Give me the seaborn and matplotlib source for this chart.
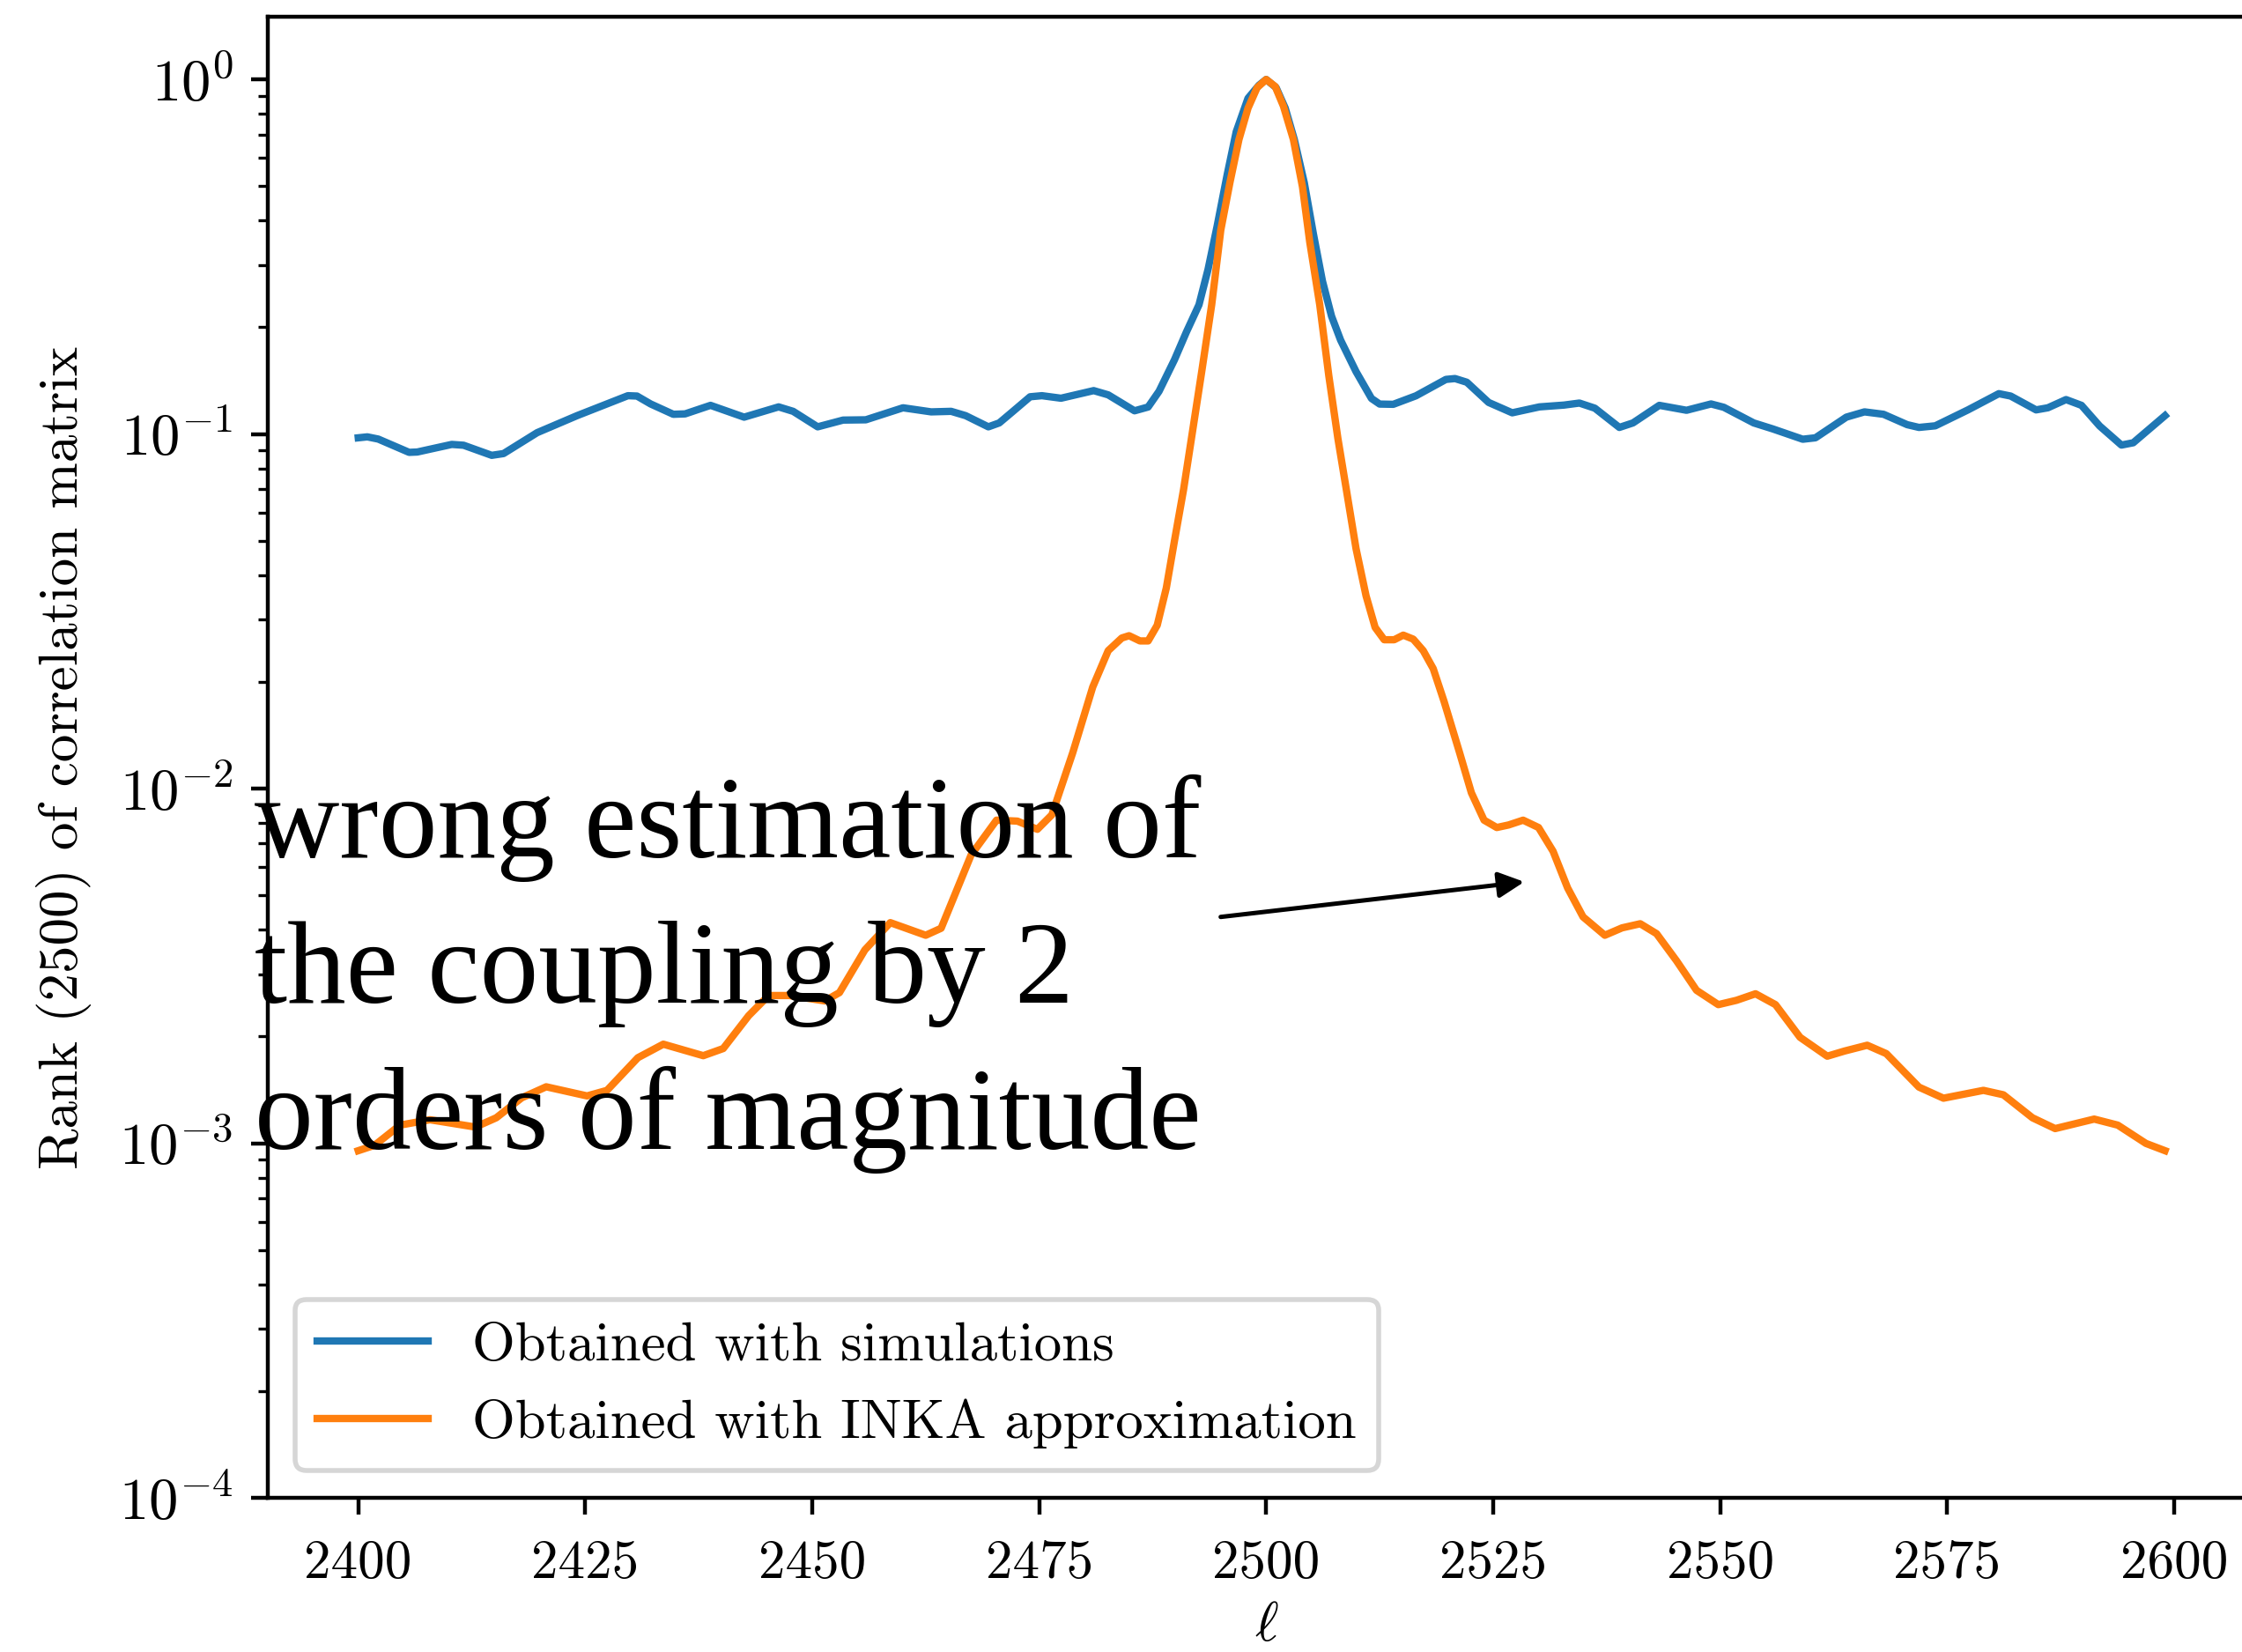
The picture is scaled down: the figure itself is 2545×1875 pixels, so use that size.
import matplotlib
matplotlib.use("Agg")
import matplotlib.pyplot as plt
import seaborn as sns
import pandas as pd

# Multipole values and coupling rank for the two estimates
ell_sim = [2400.0, 2401.0, 2402.2, 2405.6, 2406.5, 2410.3, 2411.6, 2414.7, 2416.0, 2419.7,
           2424.1, 2429.7, 2430.7, 2432.2, 2434.7, 2436.0, 2438.8, 2442.5, 2446.3, 2447.9,
           2450.6, 2453.4, 2455.9, 2460.0, 2463.1, 2465.3, 2466.9, 2469.4, 2470.6, 2472.2,
           2474.0, 2475.3, 2477.4, 2481.0, 2482.6, 2485.5, 2487.0, 2488.2, 2489.9, 2491.2,
           2492.6, 2493.6, 2494.6, 2495.7, 2496.7, 2498.0, 2499.2, 2500.0, 2501.1, 2502.1,
           2503.1, 2504.2, 2505.2, 2506.2, 2507.2, 2508.2, 2509.9, 2511.6, 2512.5, 2514.0,
           2516.5, 2519.8, 2520.8, 2522.1, 2524.5, 2527.1, 2530.1, 2532.8, 2534.5, 2536.2,
           2538.9, 2540.4, 2543.3, 2546.3, 2549.0, 2550.4, 2553.7, 2555.8, 2559.1, 2560.5,
           2563.9, 2565.9, 2568.0, 2570.6, 2571.9, 2573.7, 2577.3, 2580.7, 2582.0, 2584.8,
           2586.1, 2588.1, 2589.8, 2591.8, 2594.2, 2595.5, 2599.0]
rank_sim = [0.0976, 0.0982, 0.0968, 0.0888, 0.0890, 0.0935, 0.0930, 0.0871, 0.0881, 0.1009,
            0.1127, 0.1283, 0.1280, 0.1216, 0.1137, 0.1140, 0.1205, 0.1116, 0.1193, 0.1159,
            0.1048, 0.1095, 0.1097, 0.1186, 0.1155, 0.1159, 0.1127, 0.1048, 0.1075, 0.1164,
            0.1274, 0.1283, 0.1262, 0.1326, 0.1290, 0.1163, 0.1192, 0.1320, 0.1620, 0.1936,
            0.2315, 0.2915, 0.386, 0.538, 0.712, 0.885, 0.963, 1.0, 0.948, 0.830,
            0.677, 0.511, 0.367, 0.270, 0.215, 0.184, 0.150, 0.126, 0.1215, 0.1213,
            0.1282, 0.1426, 0.1434, 0.1400, 0.1228, 0.1148, 0.1193, 0.1207, 0.1223, 0.1183,
            0.1044, 0.1075, 0.1205, 0.1167, 0.1216, 0.1190, 0.1075, 0.1034, 0.0967, 0.0976,
            0.1116, 0.1155, 0.1137, 0.1063, 0.1044, 0.1055, 0.1170, 0.1300, 0.1280, 0.1170,
            0.1186, 0.1251, 0.1205, 0.1054, 0.0931, 0.0945, 0.1127]

ell_inka = [2400.0, 2401.8, 2404.6, 2407.9, 2412.9, 2415.2, 2418.0, 2420.7, 2425.2, 2427.4,
            2430.8, 2433.6, 2438.0, 2440.2, 2443.0, 2445.2, 2447.5, 2451.4, 2453.0, 2455.8,
            2458.6, 2462.5, 2464.2, 2467.5, 2470.3, 2472.6, 2474.8, 2476.4, 2478.7, 2480.9,
            2482.6, 2484.1, 2484.9, 2486.1, 2487.0, 2488.0, 2489.0, 2489.9, 2490.9, 2491.9,
            2492.9, 2494.0, 2495.0, 2496.0, 2497.0, 2498.0, 2499.0, 2500.0, 2501.0, 2501.9,
            2503.0, 2504.0, 2504.8, 2505.9, 2506.9, 2507.9, 2508.9, 2509.9, 2511.0, 2512.0,
            2513.0, 2514.1, 2515.1, 2516.2, 2517.3, 2518.4, 2519.6, 2521.3, 2522.6, 2524.0,
            2525.4, 2526.7, 2528.3, 2530.0, 2531.6, 2533.2, 2534.9, 2537.3, 2539.2, 2541.2,
            2543.0, 2545.2, 2547.4, 2549.8, 2551.8, 2553.9, 2556.1, 2558.8, 2561.8, 2563.7,
            2566.2, 2568.3, 2571.9, 2574.6, 2579.0, 2581.2, 2584.4, 2586.9, 2591.2, 2593.8,
            2596.9, 2599.0]
rank_inka = [0.000953, 0.000987, 0.001125, 0.001165, 0.001111, 0.001180, 0.001343, 0.001443, 0.001360, 0.001410,
             0.001743, 0.001903, 0.001766, 0.001850, 0.00229, 0.00261, 0.00261, 0.00252, 0.00266, 0.00351,
             0.00419, 0.00386, 0.00404, 0.00650, 0.00815, 0.00810, 0.00768, 0.00844, 0.01264, 0.01936,
             0.0245, 0.0266, 0.0270, 0.0261, 0.0261, 0.0289, 0.0368, 0.0500, 0.0697, 0.1022,
             0.150, 0.2316, 0.376, 0.511, 0.677, 0.830, 0.948, 1.0, 0.955, 0.841,
             0.677, 0.498, 0.348, 0.2316, 0.146, 0.0972, 0.0680, 0.0475, 0.0350, 0.0285,
             0.0263, 0.0263, 0.0271, 0.0264, 0.0245, 0.0218, 0.0176, 0.01264, 0.00974, 0.00815,
             0.00777, 0.00790, 0.00815, 0.00777, 0.00666, 0.00525, 0.00435, 0.00386, 0.00405, 0.00416,
             0.00390, 0.00327, 0.00270, 0.00246, 0.00253, 0.00264, 0.00246, 0.00199, 0.00176, 0.00182,
             0.00189, 0.00179, 0.00144, 0.00134, 0.00141, 0.00137, 0.00118, 0.00110, 0.00117, 0.001125,
             0.000999, 0.000953]

series_labels = ["Obtained with simulations", "Obtained with INKA approximation"]
x_ticks = [2400, 2425, 2450, 2475, 2500, 2525, 2550, 2575, 2600]
note_text = "wrong estimation of\nthe coupling by 2\norders of magnitude"

df = pd.concat([
    pd.DataFrame({"ell": ell_sim, "rank": rank_sim, "series": series_labels[0]}),
    pd.DataFrame({"ell": ell_inka, "rank": rank_inka, "series": series_labels[1]}),
])

plt.rcParams.update({
    "font.family": "serif",
    "font.serif": ["cmr10"],
    "mathtext.fontset": "cm",
    "axes.formatter.use_mathtext": True,
    "axes.unicode_minus": False,
    "font.size": 11,
})

fig = plt.figure(figsize=(6.3625, 4.6875), dpi=400)
ax = fig.add_axes([0.1193, 0.0933, 0.8909, 0.8964])

sns.lineplot(data=df, x="ell", y="rank", hue="series", hue_order=series_labels,
             palette=["#1f77b4", "#ff7f0e"], estimator=None, sort=False,
             linewidth=1.5, ax=ax, legend=False)

ax.set_yscale("log")
ax.set_xlim(2390, 2610)
ax.set_ylim(1e-4, 1.5)
ax.set_xticks(x_ticks)
ax.set_xticklabels([str(t) for t in x_ticks])
ax.tick_params(axis="x", pad=5)
ax.tick_params(axis="y", which="major", labelsize=12)
ax.set_xlabel(r"$\ell$", fontsize=11.5, labelpad=2.5)
ax.set_ylabel("Rank (2500) of correlation matrix", fontsize=11.35, labelpad=5.5)

handles = ax.get_lines()[:2]
ax.legend(handles, series_labels, loc="lower left", fontsize=11.3)

ax.annotate(note_text, xy=(2529.5, 5.5e-3), xycoords="data",
            xytext=(289, 571), textcoords="figure pixels",
            ha="left", va="baseline", fontsize=24,
            family="Liberation Serif", linespacing=1.47,
            arrowprops=dict(arrowstyle="-|>", color="black", lw=0.9,
                            mutation_scale=11))

fig.savefig("out.png", dpi=400)
